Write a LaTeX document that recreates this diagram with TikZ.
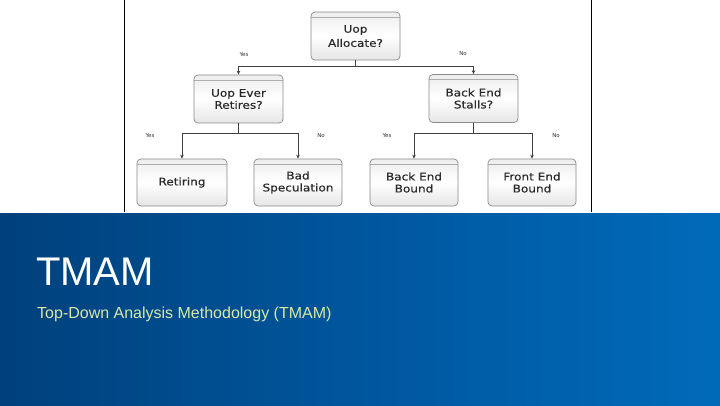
\documentclass[tikz,border=0pt]{standalone}
\usepackage{fontspec}
\setmainfont{Liberation Sans}
\newfontfamily\boxfont{DejaVu Sans}[FakeStretch=1.15,FakeBold=0.4]
\newfontfamily\lblfont{DejaVu Sans}
\usetikzlibrary{arrows.meta,positioning}
\definecolor{bandA}{HTML}{00386B}
\definecolor{bandB}{HTML}{003E78}
\definecolor{bandC}{HTML}{0058A0}
\definecolor{bandD}{HTML}{0070C2}
\definecolor{bandE}{HTML}{0086D0}
\definecolor{subtxt}{HTML}{D9E8A8}
\definecolor{boxtxt}{HTML}{2A2A2A}
\definecolor{boxline}{HTML}{8A8A8A}
\pgfdeclarehorizontalshading{bandshade}{100bp}{color(0bp)=(bandA); color(22bp)=(bandB); color(52bp)=(bandC); color(82bp)=(bandD); color(100bp)=(bandE)}
\tikzset{
  flowbox/.style={draw=boxline, line width=0.7pt, rounded corners=4pt,
    top color=gray!14, bottom color=gray!20, middle color=white,
    minimum width=89pt, minimum height=48pt, align=center,
    font=\boxfont\fontsize{10.5}{12}\selectfont, text=boxtxt, inner sep=1pt,
    path picture={\draw[boxline!70, line width=0.5pt]
      ([yshift=-5pt]path picture bounding box.north west) --
      ([yshift=-5pt]path picture bounding box.north east);}},
  conn/.style={draw=black!75, line width=0.8pt},
  arr/.style={conn, -{Stealth[length=4pt,width=3.5pt]}},
  lbl/.style={font=\lblfont\fontsize{5.5}{6}\selectfont, text=black!80, inner sep=0pt},
  frame/.style={draw=black, line width=1.2pt}
}
\begin{document}
\begin{tikzpicture}[x=1pt,y=-1pt]
\useasboundingbox (0,0) rectangle (720,405);
\fill[white] (0,0) rectangle (720,213);
\shade[shading=bandshade] (0,213) rectangle (720,405);
\draw[frame] (124.5,0) coordinate (fl1) -- (124.5,212) coordinate (fl2);
\draw[frame] (591.5,0) coordinate (fr1) -- (591.5,212) coordinate (fr2);

\node[flowbox] (alloc) at (355.5,36) {\raisebox{-2pt}{\shortstack{Uop\\[1pt]Allocate?}}};
\node[flowbox] (retires) at (238.5,99) {Uop Ever\\Retires?};
\node[flowbox] (stalls) at (473.5,98.5) {Back End\\Stalls?};
\node[flowbox, minimum height=47pt, minimum width=90pt] (retiring) at (182,182.5) {Retiring};
\node[flowbox, minimum height=47pt, minimum width=88pt] (badspec) at (298,182.5) {Bad\\Speculation};
\node[flowbox, minimum height=47pt, minimum width=88pt] (beb) at (414,182.5) {Back End\\Bound};
\node[flowbox, minimum height=47pt, minimum width=88pt] (feb) at (532,182.5) {Front End\\Bound};

\coordinate (j1) at (355.5,66);
\coordinate (j2) at (238.5,133);
\coordinate (j3) at (473.5,133);
\draw[conn] (alloc.south) -- (j1);
\draw[arr] (j1) -| (retires.north);
\draw[arr] (j1) -| (stalls.north);
\draw[conn] (retires.south) -- (j2);
\draw[arr] (j2) -| (retiring.north);
\draw[arr] (j2) -| (badspec.north);
\draw[conn] (stalls.south) -- (j3);
\draw[arr] (j3) -| (beb.north);
\draw[arr] (j3) -| (feb.north);

\node[lbl] (y1) at (244,55) {Yes};
\node[lbl] (n1) at (463,53.5) {No};
\node[lbl] (y2) at (150,136) {Yes};
\node[lbl] (n2) at (321,136) {No};
\node[lbl] (y3) at (387,136) {Yes};
\node[lbl] (n3) at (556,136) {No};

\node[anchor=base west, inner sep=0pt, text=white, font=\fontsize{40}{44}\selectfont] (title) at (36,285) {TMAM};
\node[anchor=base west, inner sep=0pt, text=subtxt, font=\fontsize{16}{18}\selectfont] (sub) at (37,318) {Top-Down Analysis Methodology (TMAM)};
\end{tikzpicture}
\end{document}
